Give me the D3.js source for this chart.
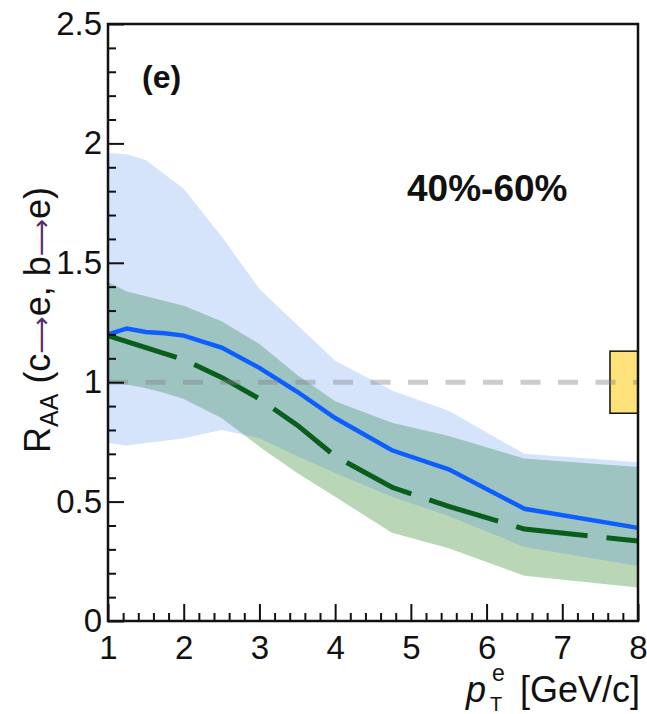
<!DOCTYPE html>
<html>
<head>
<meta charset="utf-8">
<script src="https://cdn.jsdelivr.net/npm/d3@7"></script>
<style>
  body { margin: 0; background: #fff; }
  text { font-family: "Liberation Sans", Arial, sans-serif; }
</style>
</head>
<body>
<div id="chart"></div>
<script>
// pT grid and R_AA curves
const ptGrid = [1, 1.25, 1.5, 1.75, 2, 2.5, 3, 3.5, 4, 4.75, 5.5, 6.5, 8];

// c -> e (blue)
const charmCentral = [1.20, 1.225, 1.21, 1.205, 1.195, 1.145, 1.06, 0.96, 0.85, 0.715, 0.635, 0.47, 0.39];
const charmUpper   = [1.96, 1.955, 1.93, 1.87, 1.81, 1.61, 1.39, 1.24, 1.09, 0.965, 0.88, 0.70, 0.665];
const charmLower   = [0.745, 0.735, 0.745, 0.755, 0.765, 0.80, 0.765, 0.69, 0.62, 0.52, 0.44, 0.31, 0.23];

// b -> e (green)
const beautyCentral = [1.195, 1.17, 1.145, 1.12, 1.095, 1.02, 0.93, 0.82, 0.69, 0.56, 0.48, 0.385, 0.335];
const beautyUpper   = [1.42, 1.38, 1.36, 1.34, 1.32, 1.255, 1.16, 1.03, 0.92, 0.83, 0.775, 0.68, 0.645];
const beautyLower   = [1.0, 0.99, 0.975, 0.955, 0.93, 0.85, 0.73, 0.62, 0.52, 0.37, 0.305, 0.19, 0.14];

// normalisation uncertainty box at R_AA = 1
const normCenter = 1;
const normUnc = 0.13;
const normBoxPt = [7.63, 8];

const xTickValues = [1, 2, 3, 4, 5, 6, 7, 8];
const xTickLabels = ["1", "2", "3", "4", "5", "6", "7", "8"];
const yTickValues = [0, 0.5, 1, 1.5, 2, 2.5];
const yTickLabels = ["0", "0.5", "1", "1.5", "2", "2.5"];

const width = 647
const height = 714

const svg = d3.select("#chart")
  .append("svg")
    .attr("width", width)
    .attr("height", height)

const x = d3.scaleLinear().domain([1, 8]).range([108, 638])
const y = d3.scaleLinear().domain([0, 2.5]).range([621, 24])

const charm = ptGrid.map((pt, i) => ({pt, c: charmCentral[i], hi: charmUpper[i], lo: charmLower[i]}))
const beauty = ptGrid.map((pt, i) => ({pt, c: beautyCentral[i], hi: beautyUpper[i], lo: beautyLower[i]}))

const band = d3.area()
  .x(d => x(d.pt))
  .y0(d => y(d.lo))
  .y1(d => y(d.hi))

const line = d3.line()
  .x(d => x(d.pt))
  .y(d => y(d.c))

// bands: green opaque underneath, blue translucent on top
svg.append("path")
  .datum(beauty)
  .attr("d", band)
  .attr("fill", "#b9d7b7")

svg.append("path")
  .datum(charm)
  .attr("d", band)
  .attr("fill", "rgb(50,120,235)")
  .attr("fill-opacity", 0.2)

svg.append("path")
  .datum(charm)
  .attr("d", line)
  .attr("fill", "none")
  .attr("stroke", "#0d5eff")
  .attr("stroke-width", 4.5)

svg.append("path")
  .datum(beauty)
  .attr("d", line)
  .attr("fill", "none")
  .attr("stroke", "#0a5e1c")
  .attr("stroke-width", 5)
  .attr("stroke-dasharray", "72,19")

// normalisation box
svg.append("rect")
  .attr("x", x(normBoxPt[0]))
  .attr("y", y(normCenter + normUnc))
  .attr("width", x(normBoxPt[1]) - x(normBoxPt[0]))
  .attr("height", y(normCenter - normUnc) - y(normCenter + normUnc))
  .attr("fill", "#fde27c")
  .attr("stroke", "#111")
  .attr("stroke-width", 1.5)

// reference line at 1
svg.append("line")
  .attr("x1", x(1)).attr("x2", x(8))
  .attr("y1", y(1)).attr("y2", y(1))
  .attr("stroke", "#808080")
  .attr("stroke-opacity", 0.4)
  .attr("stroke-width", 5)
  .attr("stroke-dasharray", "20,17.5")

// frame
svg.append("rect")
  .attr("x", x(1)).attr("y", y(2.5))
  .attr("width", x(8) - x(1)).attr("height", y(0) - y(2.5))
  .attr("fill", "none")
  .attr("stroke", "#111")
  .attr("stroke-width", 2.5)

// axes, ticks pointing inwards
const minorX = d3.range(1, 8.001, 0.2).filter(v => Math.abs(v - Math.round(v)) > 1e-6)
const minorY = d3.range(0, 2.501, 0.1).filter(v => Math.abs(v * 2 - Math.round(v * 2)) > 1e-6)

const xMinor = svg.append("g")
  .attr("transform", `translate(0,${y(0)})`)
  .call(d3.axisBottom(x).tickValues(minorX).tickSize(-8).tickFormat(""))
const xMajor = svg.append("g")
  .attr("transform", `translate(0,${y(0)})`)
  .call(d3.axisBottom(x).tickValues(xTickValues).tickSize(-17).tickPadding(15)
    .tickFormat((d, i) => xTickLabels[i]))

const yMinor = svg.append("g")
  .attr("transform", `translate(${x(1)},0)`)
  .call(d3.axisLeft(y).tickValues(minorY).tickSize(-8).tickFormat(""))
const yMajor = svg.append("g")
  .attr("transform", `translate(${x(1)},0)`)
  .call(d3.axisLeft(y).tickValues(yTickValues).tickSize(-16).tickPadding(6)
    .tickFormat((d, i) => yTickLabels[i]))

for (const g of [xMinor, xMajor, yMinor, yMajor]) {
  g.select(".domain").remove()
  g.selectAll(".tick line").attr("stroke", "#111").attr("stroke-width", 2)
  g.selectAll(".tick text")
    .attr("fill", "#111")
    .style("font-size", "33px")
    .style("font-family", "Liberation Sans, Arial, sans-serif")
}

// y axis title
const yTitle = svg.append("text")
  .attr("transform", "translate(50,320) rotate(-90)")
  .attr("text-anchor", "middle")
  .attr("fill", "#111")
  .style("font-size", "36px")
yTitle.append("tspan").text("R")
yTitle.append("tspan").attr("dy", 8).style("font-size", "25px").text("AA")
yTitle.append("tspan").attr("dy", -8).text(" (c")
yTitle.append("tspan").attr("fill", "#5a2a6e").style("font-family", "DejaVu Sans").style("font-size", "26px").text("\u27F6")
yTitle.append("tspan").text("e, b")
yTitle.append("tspan").attr("fill", "#5a2a6e").style("font-family", "DejaVu Sans").style("font-size", "26px").text("\u27F6")
yTitle.append("tspan").text("e)")

// x axis title
svg.append("text")
  .attr("x", 466).attr("y", 702)
  .attr("fill", "#111")
  .style("font-size", "36px")
  .style("font-style", "italic")
  .text("p")
svg.append("text")
  .attr("x", 492).attr("y", 681)
  .attr("fill", "#111")
  .style("font-size", "23px")
  .text("e")
svg.append("text")
  .attr("x", 490).attr("y", 711)
  .attr("fill", "#111")
  .style("font-size", "20px")
  .text("T")
svg.append("text")
  .attr("x", 640).attr("y", 702)
  .attr("text-anchor", "end")
  .attr("fill", "#111")
  .style("font-size", "36px")
  .text("[GeV/c]")

// panel labels
svg.append("text")
  .attr("x", 142).attr("y", 88)
  .attr("fill", "#111")
  .style("font-size", "32px")
  .style("font-weight", "bold")
  .text("(e)")
svg.append("text")
  .attr("x", 407).attr("y", 201)
  .attr("fill", "#111")
  .style("font-size", "37px")
  .style("font-weight", "bold")
  .text("40%-60%")
</script>
</body>
</html>
